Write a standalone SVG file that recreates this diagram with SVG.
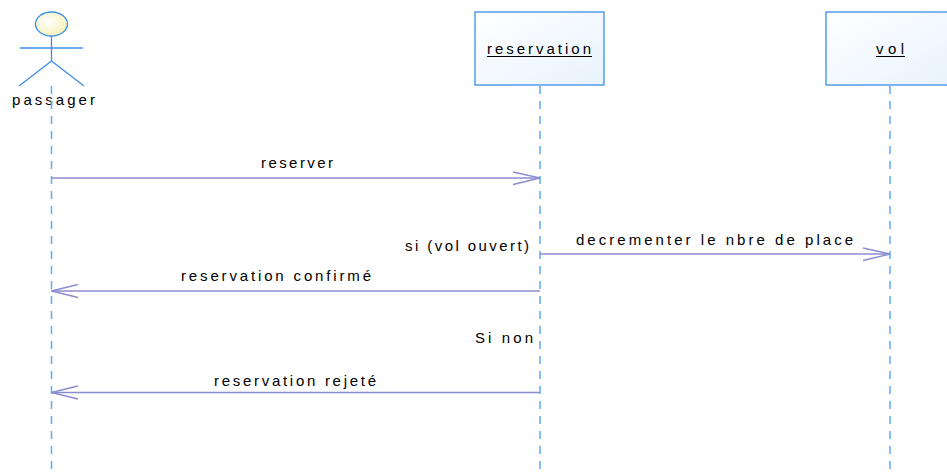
<svg xmlns="http://www.w3.org/2000/svg" width="947" height="475" viewBox="0 0 947 475">
<defs>
<linearGradient id="boxfill" x1="0" y1="0" x2="1" y2="1">
<stop offset="0" stop-color="#ffffff"/>
<stop offset="1" stop-color="#e8f3fd"/>
</linearGradient>
<radialGradient id="headfill" cx="0.4" cy="0.4" r="0.7">
<stop offset="0" stop-color="#ffffff"/>
<stop offset="1" stop-color="#f5f0b0"/>
</radialGradient>
</defs>
<style>
text{font-family:"Liberation Sans",Arial,sans-serif;font-size:15px;fill:#000}
.box{fill:url(#boxfill);stroke:#3d8fe8;stroke-width:1.3}
.life{stroke:#5eaafa;stroke-width:1.5;stroke-dasharray:8 7;fill:none}
.actor{stroke:#3d8fe8;stroke-width:1.3;fill:none}
.msg{stroke:#8c8cd0;stroke-width:1.3;fill:none}
.ul{stroke:#000;stroke-width:1}
</style>
<rect width="947" height="475" fill="#ffffff"/>
<g id="passager">
<ellipse cx="51.5" cy="24" rx="16" ry="12" fill="url(#headfill)" stroke="#3d8fe8" stroke-width="1.3"/>
<line class="actor" x1="51.5" y1="36" x2="51.5" y2="61"/>
<line class="actor" x1="20" y1="48" x2="83" y2="48"/>
<line class="actor" x1="51.5" y1="61" x2="19" y2="86"/>
<line class="actor" x1="51.5" y1="61" x2="84" y2="86"/>
<text x="12" y="104.5" textLength="83" lengthAdjust="spacing">passager</text>
<line class="life" x1="51.5" y1="86" x2="51.5" y2="475"/>
</g>
<g id="reservation">
<rect class="box" x="475" y="12" width="129" height="73"/>
<text x="487" y="54" textLength="104" lengthAdjust="spacing">reservation</text>
<line class="ul" x1="487" y1="56.5" x2="592" y2="56.5"/>
<line class="life" x1="540" y1="86" x2="540" y2="475"/>
</g>
<g id="vol">
<rect class="box" x="826" y="12" width="128" height="73"/>
<text x="876" y="54" textLength="28" lengthAdjust="spacing">vol</text>
<line class="ul" x1="876" y1="56.5" x2="905" y2="56.5"/>
<line class="life" x1="890" y1="86" x2="890" y2="475"/>
</g>
<g id="connectors">
<line class="msg" x1="51.5" y1="178" x2="540" y2="178"/>
<polyline class="msg" points="513,172 540,178 513,184.5"/>
<line class="msg" x1="540" y1="254" x2="890" y2="254"/>
<polyline class="msg" points="863,248 890,254 863,260.5"/>
<line class="msg" x1="540" y1="291" x2="51.5" y2="291"/>
<polyline class="msg" points="78,284.5 51.5,291 78,297.5"/>
<line class="msg" x1="540" y1="392.5" x2="51.5" y2="392.5"/>
<polyline class="msg" points="78,386 51.5,392.5 78,399"/>
</g>
<g id="labels">
<text x="261" y="168" textLength="72" lengthAdjust="spacing">reserver</text>
<text x="576" y="245" textLength="277" lengthAdjust="spacing">decrementer le nbre de place</text>
<text x="405" y="250.5" textLength="124" lengthAdjust="spacing">si (vol ouvert)</text>
<text x="181" y="281" textLength="190" lengthAdjust="spacing">reservation confirmé</text>
<text x="475" y="343" textLength="58" lengthAdjust="spacing">Si non</text>
<text x="214" y="386" textLength="162" lengthAdjust="spacing">reservation rejeté</text>
</g>
</svg>
